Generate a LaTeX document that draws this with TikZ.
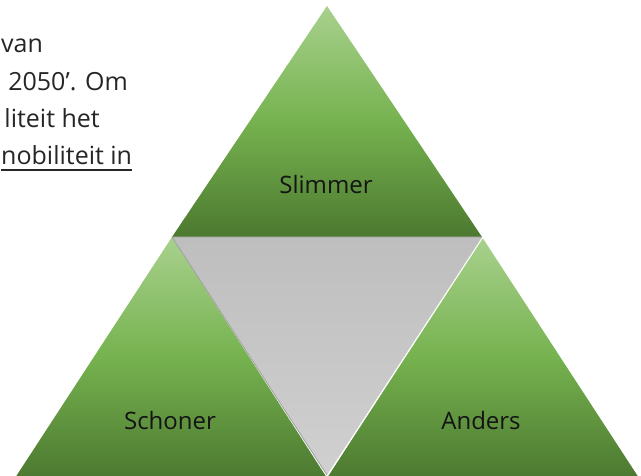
\documentclass[tikz,border=0pt]{standalone}
\usepackage{fontspec}
\setmainfont{Open Sans}
\begin{document}
\begin{tikzpicture}[x=1pt,y=1pt,
  greentri/.style={top color=greenTop, bottom color=greenBot, middle color=greenMid},
  label/.style={font=\fontsize{24}{27}\selectfont, text=labelInk, inner sep=0pt, anchor=base},
  prose/.style={font=\fontsize{25}{29}\selectfont, text=proseInk, inner sep=0pt, anchor=base east}]
\definecolor{greenTop}{RGB}{168,209,141}
\definecolor{greenMid}{RGB}{118,178,79}
\definecolor{greenBot}{RGB}{76,121,48}
\definecolor{grayTop}{RGB}{190,190,190}
\definecolor{grayBot}{RGB}{208,208,208}
\definecolor{grayEdge}{RGB}{160,160,160}
\definecolor{labelInk}{RGB}{20,20,20}
\definecolor{proseInk}{RGB}{38,38,38}
\useasboundingbox (0,0) rectangle (641,475);
\clip (0,0) rectangle (641,475);

% corner points of the triangles
\coordinate (apex) at (327,469);
\coordinate (tl) at (172,238);
\coordinate (tr) at (482,238);
\coordinate (bl) at (15,-3);
\coordinate (bm) at (327,-3);
\coordinate (br) at (639,-3);
\coordinate (gv) at (327,0);

% running text of the page behind the figure
\node[prose, anchor=base west] (l1) at (1,422) {van};
\node[prose] (l2) at (128,384) {2050’. Om};
\node[prose] (l3) at (100,347) {liteit het};
\node[prose, anchor=base west] (l4) at (1,310) {nobiliteit in};
\draw[proseInk, line width=1.2pt] ([yshift=-5pt]l4.base west) -- ([yshift=-5pt]l4.base east);

% three green triangles
\shade[greentri] (apex) -- (tr) -- (tl) -- cycle;
\shade[greentri] (tl) -- (bm) -- (bl) -- cycle;
\shade[greentri] (tr) -- (br) -- (bm) -- cycle;

% grey centre triangle
\shade[top color=grayTop, bottom color=grayBot] (tl) -- (tr) -- (gv) -- cycle;
\draw[grayEdge, line width=0.8pt] (tr) -- (tl) -- (gv);
\draw[white, line width=1pt] ([xshift=1pt]tr) -- ([xshift=1pt]gv);

% labels
\node[label] (slimmer) at (326,281) {Slimmer};
\node[label] (schoner) at (170,46) {Schoner};
\node[label] (anders) at (481,46) {Anders};
\end{tikzpicture}
\end{document}
